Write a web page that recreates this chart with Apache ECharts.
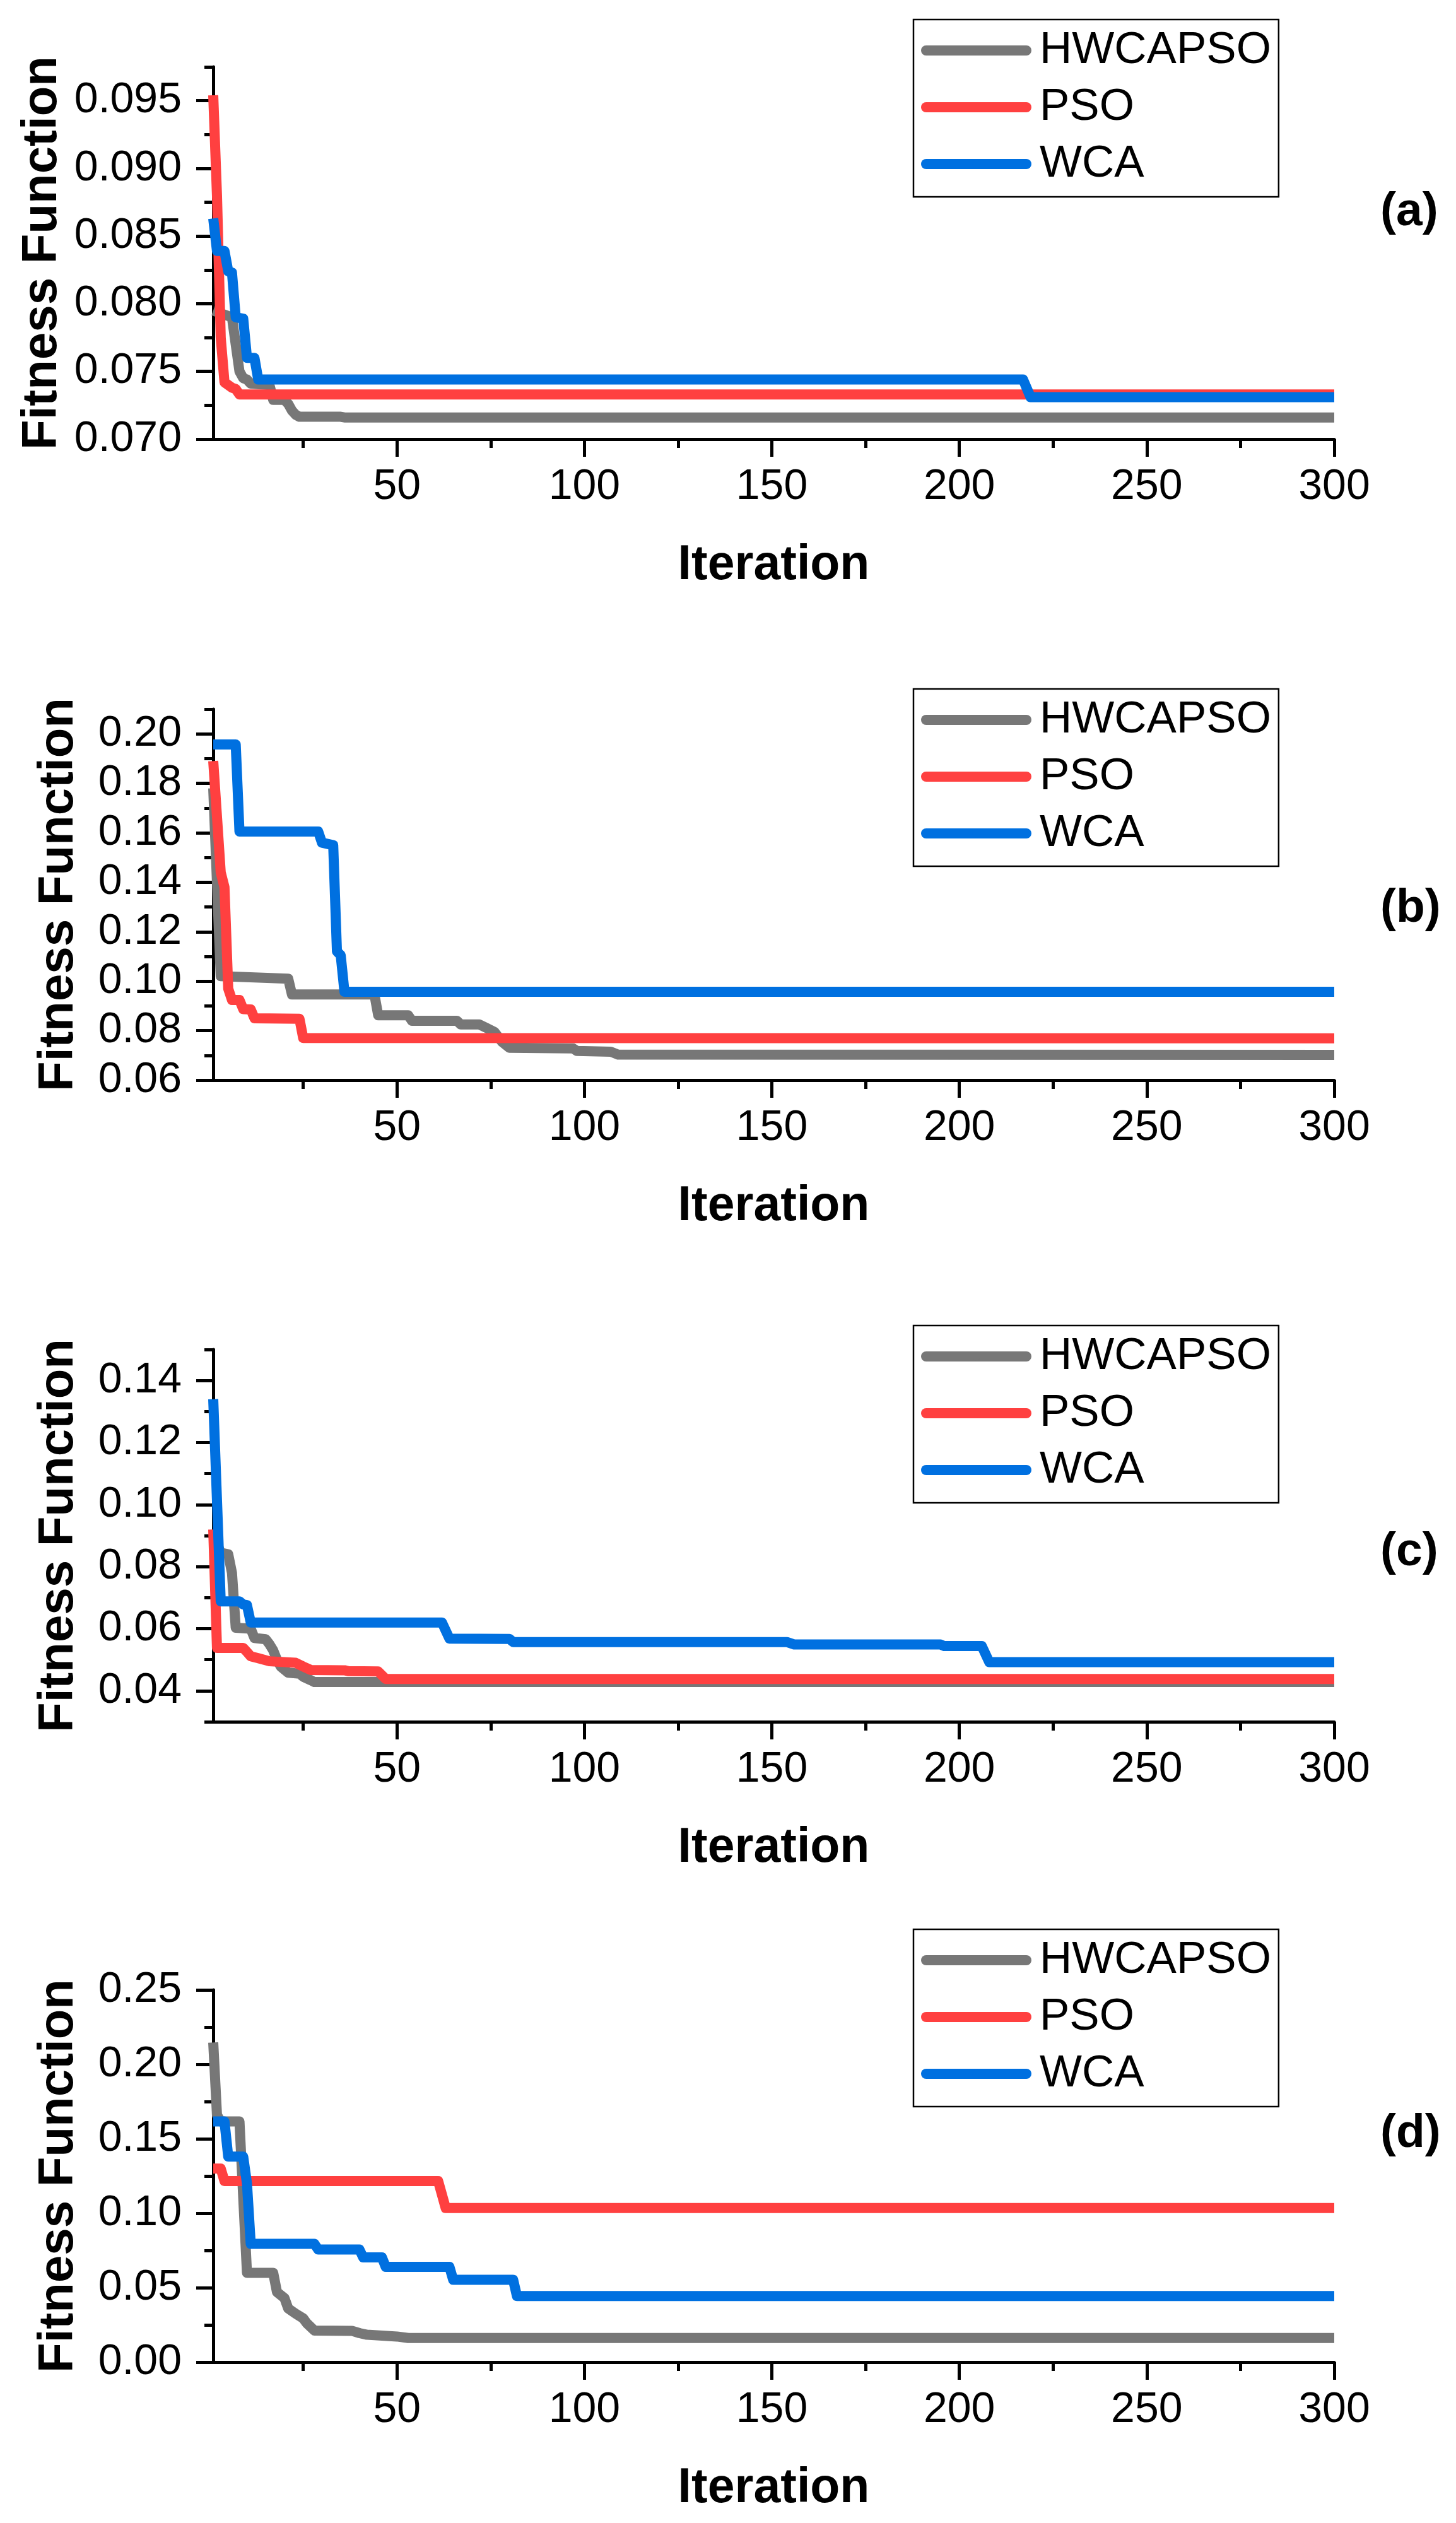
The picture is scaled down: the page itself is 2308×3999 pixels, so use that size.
<!DOCTYPE html>
<html>
<head>
<meta charset="utf-8">
<script src="https://cdn.jsdelivr.net/npm/echarts@6/dist/echarts.min.js"></script>
<style>
html,body{margin:0;padding:0;background:#fff;}
#chart{width:2308px;height:3999px;}
</style>
</head>
<body>
<div id="chart"></div>
<script>
// ---------- data ----------
const seriesNames = ['HWCAPSO', 'PSO', 'WCA'];
const panelLabels = ['(a)', '(b)', '(c)', '(d)'];

const iterMajorTicks = [50, 100, 150, 200, 250, 300];
const iterMinorTicks = [25, 75, 125, 175, 225, 275];

const yMajorA = [0.070, 0.075, 0.080, 0.085, 0.090, 0.095];
const yMinorA = [0.0725, 0.0775, 0.0825, 0.0875, 0.0925, 0.0975];
const yMajorB = [0.06, 0.08, 0.10, 0.12, 0.14, 0.16, 0.18, 0.20];
const yMinorB = [0.07, 0.09, 0.11, 0.13, 0.15, 0.17, 0.19, 0.21];
const yMajorC = [0.04, 0.06, 0.08, 0.10, 0.12, 0.14];
const yMinorC = [0.03, 0.05, 0.07, 0.09, 0.11, 0.13, 0.15];
const yMajorD = [0.00, 0.05, 0.10, 0.15, 0.20, 0.25];
const yMinorD = [0.025, 0.075, 0.125, 0.175, 0.225];

// [iteration, fitness] at change points
const a_HWCAPSO = [[1,0.0795],[6,0.0790],[7,0.0770],[8,0.0750],[9,0.0745],[10,0.0744],[11,0.0741],[16,0.0740],[17,0.0729],[20,0.0729],[21,0.0726],[22,0.0721],[23,0.0718],[24,0.07165],[35,0.07165],[36,0.0716],[300,0.0716]];
const a_PSO = [[1,0.0954],[2,0.0880],[3,0.0775],[4,0.0742],[6,0.0738],[7,0.0737],[8,0.0733],[300,0.0733]];
const a_WCA = [[1,0.0863],[2,0.0839],[4,0.0839],[5,0.0824],[6,0.0823],[7,0.0790],[9,0.0789],[10,0.0760],[12,0.0760],[13,0.0744],[217,0.0744],[219,0.0731],[300,0.0731]];

const b_HWCAPSO = [[1,0.178],[3,0.102],[21,0.101],[22,0.0946],[44,0.0946],[45,0.0862],[53,0.0862],[54,0.0840],[66,0.0840],[67,0.0825],[72,0.0825],[74,0.0810],[76,0.0795],[78,0.0755],[80,0.0731],[97,0.0728],[98,0.0718],[107,0.0715],[109,0.0703],[300,0.0702]];
const b_PSO = [[1,0.189],[3,0.144],[4,0.138],[5,0.097],[6,0.0924],[8,0.0924],[9,0.0887],[11,0.0886],[12,0.0850],[24,0.0848],[25,0.0770],[300,0.0769]];
const b_WCA = [[1,0.1957],[7,0.1957],[8,0.1605],[29,0.1605],[30,0.156],[33,0.155],[34,0.112],[35,0.1105],[36,0.0957],[300,0.0957]];

const c_HWCAPSO = [[1,0.0900],[3,0.0845],[5,0.0840],[6,0.0780],[7,0.0603],[11,0.0600],[12,0.0570],[15,0.0566],[16,0.0550],[17,0.0530],[18,0.0500],[19,0.0478],[21,0.0458],[24,0.0455],[25,0.0445],[27,0.0434],[28,0.0428],[300,0.0428]];
const c_PSO = [[1,0.092],[2,0.0538],[9,0.0538],[10,0.0525],[11,0.0511],[13,0.0505],[16,0.0495],[23,0.0490],[25,0.0478],[27,0.0467],[36,0.0466],[37,0.0463],[45,0.0462],[47,0.0438],[300,0.0438]];
const c_WCA = [[1,0.134],[3,0.0688],[8,0.0688],[9,0.0678],[10,0.0676],[11,0.0620],[62,0.0620],[64,0.0568],[80,0.0567],[81,0.0557],[154,0.0557],[156,0.0549],[195,0.0549],[196,0.0544],[206,0.0544],[208,0.0492],[300,0.0492]];

const d_HWCAPSO = [[1,0.2147],[2,0.166],[3,0.1616],[8,0.1616],[10,0.0600],[17,0.0600],[18,0.0470],[20,0.0430],[21,0.0360],[23,0.0325],[25,0.0294],[26,0.0260],[28,0.0212],[38,0.0210],[40,0.0195],[42,0.0184],[50,0.0172],[53,0.0162],[300,0.0162]];
const d_PSO = [[1,0.130],[3,0.130],[4,0.1216],[61,0.1216],[63,0.1035],[300,0.1035]];
const d_WCA = [[1,0.1616],[4,0.1616],[5,0.138],[9,0.138],[10,0.120],[11,0.0794],[28,0.0794],[29,0.0756],[40,0.0756],[41,0.0703],[46,0.0703],[47,0.0640],[64,0.0640],[65,0.0553],[81,0.0553],[82,0.0444],[300,0.0444]];

// ---------- layout / style ----------
const FONT = "'Liberation Sans', Arial, sans-serif";
const colors = ['#777777', '#FF4040', '#0070E0'];
const panels = [
  {top:106,  h:590, min:0.07, max:0.0975, major:yMajorA, minor:yMinorA, dec:3, data:[a_HWCAPSO,a_PSO,a_WCA], legendTop:31,   labelY:336},
  {top:1124, h:588, min:0.06, max:0.21,   major:yMajorB, minor:yMinorB, dec:2, data:[b_HWCAPSO,b_PSO,b_WCA], legendTop:1092, labelY:1440},
  {top:2139, h:590, min:0.03, max:0.15,   major:yMajorC, minor:yMinorC, dec:2, data:[c_HWCAPSO,c_PSO,c_WCA], legendTop:2101, labelY:2460},
  {top:3154, h:590, min:0.00, max:0.25,   major:yMajorD, minor:yMinorD, dec:2, data:[d_HWCAPSO,d_PSO,d_WCA], legendTop:3058, labelY:3382}
];
const GL = 338, GW = 1777;

const grid = [], xAxis = [], yAxis = [], series = [], legend = [], graphic = [];
panels.forEach((p, i) => {
  // main grid
  grid.push({left:GL, top:p.top, width:GW, height:p.h, containLabel:false});
  // overlay grid for minor ticks
  grid.push({left:GL, top:p.top, width:GW, height:p.h, containLabel:false});
  const gMain = 2*i, gMinor = 2*i+1;
  xAxis.push({
    gridIndex:gMain, type:'value', min:1, max:300,
    axisLine:{show:true, onZero:false, lineStyle:{color:'#000', width:5}},
    axisTick:{show:true, customValues:iterMajorTicks, length:28, lineStyle:{color:'#000', width:5}},
    axisLabel:{show:true, customValues:iterMajorTicks, margin:42, color:'#000', fontSize:68, fontFamily:FONT},
    splitLine:{show:false},
    name:'Iteration', nameLocation:'middle', nameGap:162,
    nameTextStyle:{color:'#000', fontSize:77, fontWeight:'bold', fontFamily:FONT}
  });
  xAxis.push({
    gridIndex:gMinor, type:'value', min:1, max:300,
    axisLine:{show:false, onZero:false},
    axisTick:{show:true, customValues:iterMinorTicks, length:14, lineStyle:{color:'#000', width:5}},
    axisLabel:{show:false}, splitLine:{show:false}
  });
  yAxis.push({
    gridIndex:gMain, type:'value', min:p.min, max:p.max,
    axisLine:{show:true, onZero:false, lineStyle:{color:'#000', width:5}},
    axisTick:{show:true, customValues:p.major, length:27, lineStyle:{color:'#000', width:5}},
    axisLabel:{show:true, customValues:p.major, margin:50, color:'#000', fontSize:68, fontFamily:FONT,
      formatter:(v)=>Number(v).toFixed(p.dec)},
    splitLine:{show:false},
    name:'Fitness Function', nameLocation:'middle', nameGap:206,
    nameTextStyle:{color:'#000', fontSize:78, fontWeight:'bold', fontFamily:FONT}
  });
  yAxis.push({
    gridIndex:gMinor, type:'value', min:p.min, max:p.max,
    axisLine:{show:false, onZero:false},
    axisTick:{show:true, customValues:p.minor, length:14, lineStyle:{color:'#000', width:5}},
    axisLabel:{show:false}, splitLine:{show:false}
  });
  p.data.forEach((d, k) => {
    series.push({
      name:seriesNames[k], type:'line', xAxisIndex:2*i, yAxisIndex:2*i,
      data:d, showSymbol:false, symbol:'none', animation:false,
      lineStyle:{color:colors[k], width:16, join:'round', cap:'butt'},
      itemStyle:{color:colors[k]}
    });
  });
  legend.push({
    data:seriesNames, orient:'vertical', left:1448, top:p.legendTop,
    padding:[13, 12, 16, 12], itemGap:18, itemWidth:159, itemHeight:16,
    borderColor:'#000', borderWidth:2.5, backgroundColor:'#fff',
    selectedMode:false,
    lineStyle:{width:16, cap:'round'},
    textStyle:{color:'#000', fontSize:71, fontFamily:FONT, lineHeight:72, padding:[0,0,0,16]}
  });
  graphic.push({
    type:'text', x:2188, y:p.labelY,
    style:{text:panelLabels[i], fill:'#000', fontSize:75, fontWeight:'bold', fontFamily:FONT,
      align:'left', verticalAlign:'middle'}
  });
});

const chart = echarts.init(document.getElementById('chart'), null, {renderer:'canvas'});
chart.setOption({
  backgroundColor:'#fff',
  animation:false,
  grid, xAxis, yAxis, series, legend, graphic
});
</script>
</body>
</html>
